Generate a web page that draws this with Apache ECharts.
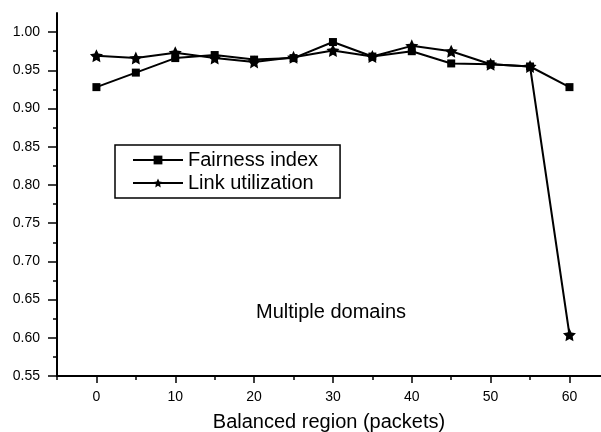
<!DOCTYPE html>
<html>
<head>
<meta charset="utf-8">
<script src="https://cdn.jsdelivr.net/npm/echarts@6/dist/echarts.min.js"></script>
<style>
  html, body { margin: 0; padding: 0; background: #fff; }
  #chart { width: 601px; height: 432px; }
</style>
</head>
<body>
<div id="chart"></div>
<script>
// Balanced region size (packets)
const regions = [0, 5, 10, 15, 20, 25, 30, 35, 40, 45, 50, 55, 60];
const fairnessIndex   = [0.928, 0.947, 0.966, 0.970, 0.964, 0.966, 0.987, 0.968, 0.975, 0.959, 0.958, 0.955, 0.928];
const linkUtilization = [0.969, 0.966, 0.973, 0.966, 0.961, 0.967, 0.976, 0.968, 0.982, 0.975, 0.958, 0.955, 0.604];

const xMajorTicks = [0, 10, 20, 30, 40, 50, 60];
const xMinorTicks = [-5, 5, 15, 25, 35, 45, 55];
const yMajorTicks = [0.55, 0.60, 0.65, 0.70, 0.75, 0.80, 0.85, 0.90, 0.95, 1.00];
const yMinorTicks = [0.575, 0.625, 0.675, 0.725, 0.775, 0.825, 0.875, 0.925, 0.975];

const FONT = '"Liberation Sans", Arial, Helvetica, sans-serif';
const STAR = 'path://M0,-1 L0.29,-0.4 L0.951,-0.309 L0.47,0.153 L0.588,0.809 L0,0.49 L-0.588,0.809 L-0.47,0.153 L-0.951,-0.309 L-0.29,-0.4 Z';

const pairs = vals => regions.map((x, i) => [x, vals[i]]);

const chart = echarts.init(document.getElementById('chart'), null, { renderer: 'canvas' });

const TICK_STYLE = { color: '#000', width: 1.5 };

chart.setOption({
  backgroundColor: '#fff',
  animation: false,
  grid: { left: 57, right: 0, top: 13, bottom: 56, containLabel: false, outerBoundsMode: 'none' },
  xAxis: [
    {
      type: 'value', min: -5, max: 64, interval: 5,
      splitLine: { show: false },
      axisLine: { show: true, onZero: false, lineStyle: { color: '#000', width: 2 } },
      name: 'Balanced region (packets)',
      nameLocation: 'middle',
      nameGap: 36,
      nameTextStyle: { fontFamily: FONT, fontSize: 20, color: '#000' },
      axisTick: { show: true, customValues: xMajorTicks, length: 7, lineStyle: TICK_STYLE },
      axisLabel: { show: true, customValues: xMajorTicks, margin: 14, fontFamily: FONT, fontSize: 14, color: '#000' }
    },
    {
      type: 'value', min: -5, max: 64, interval: 5, position: 'bottom',
      splitLine: { show: false },
      axisLine: { show: false, onZero: false },
      axisTick: { show: true, customValues: xMinorTicks, length: 4, lineStyle: TICK_STYLE },
      axisLabel: { show: false }
    }
  ],
  yAxis: [
    {
      type: 'value', min: 0.55, max: 1.025, interval: 0.05,
      splitLine: { show: false },
      axisLine: { show: true, onZero: false, lineStyle: { color: '#000', width: 2 } },
      axisTick: { show: true, customValues: yMajorTicks, length: 9, lineStyle: TICK_STYLE },
      axisLabel: {
        show: true, customValues: yMajorTicks, margin: 17,
        fontFamily: FONT, fontSize: 14, color: '#000',
        formatter: v => v.toFixed(2)
      }
    },
    {
      type: 'value', min: 0.55, max: 1.025, interval: 0.05, position: 'left',
      splitLine: { show: false },
      axisLine: { show: false, onZero: false },
      axisTick: { show: true, customValues: yMinorTicks, length: 4, lineStyle: TICK_STYLE },
      axisLabel: { show: false }
    }
  ],
  legend: {
    orient: 'vertical',
    left: 115, top: 145,
    padding: [5, 22, 5, 17],
    itemGap: 3,
    itemWidth: 50,
    itemHeight: 11,
    borderColor: '#000',
    borderWidth: 1.5,
    borderRadius: 0,
    textStyle: { fontFamily: FONT, fontSize: 20, color: '#000', lineHeight: 20 },
    data: ['Fairness index', 'Link utilization']
  },
  graphic: [{
    type: 'text',
    x: 331, y: 312,
    style: {
      text: 'Multiple domains',
      font: '20px ' + FONT,
      fill: '#000',
      align: 'center',
      verticalAlign: 'middle'
    }
  }],
  series: [
    {
      name: 'Fairness index',
      type: 'line',
      data: pairs(fairnessIndex),
      symbol: 'rect',
      symbolSize: 8,
      itemStyle: { color: '#000' },
      lineStyle: { color: '#000', width: 2 },
      z: 2
    },
    {
      name: 'Link utilization',
      type: 'line',
      data: pairs(linkUtilization),
      symbol: STAR,
      symbolSize: 13,
      itemStyle: { color: '#000' },
      lineStyle: { color: '#000', width: 2 },
      z: 3
    }
  ]
});
</script>
</body>
</html>
